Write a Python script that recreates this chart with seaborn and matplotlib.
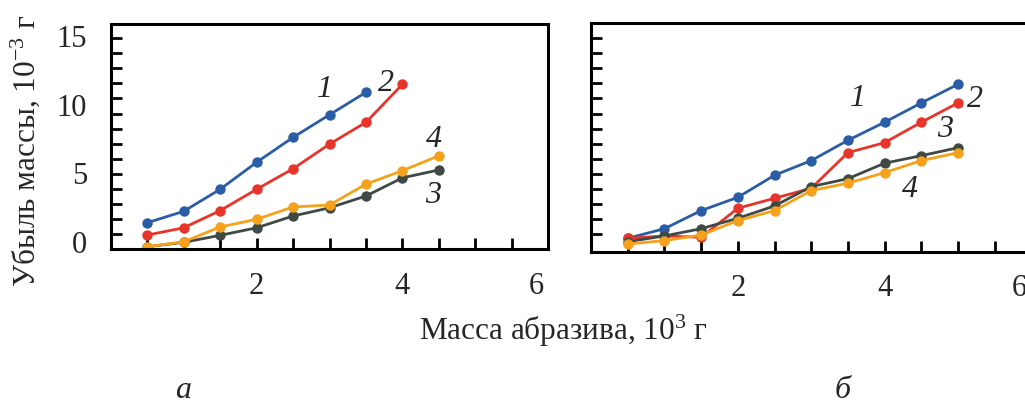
import numpy as np
import pandas as pd
import matplotlib
matplotlib.use('Agg')
import matplotlib.pyplot as plt
import matplotlib.transforms as mtransforms
import seaborn as sns

# abrasive mass, 10^3 g
x_a = [0.5, 1.0, 1.5, 2.0, 2.5, 3.0, 3.5, 4.0, 4.5]
x_b = [0.5, 1.0, 1.5, 2.0, 2.5, 3.0, 3.5, 4.0, 4.5, 5.0]

# mass loss, 10^-3 g  (panel a)
a1 = [1.38, 2.21, 3.82, 5.79, 7.61, 9.26, 10.9]
a2 = [0.48, 1.01, 2.26, 3.82, 5.32, 7.12, 8.71, 11.48]
a3 = [-0.37, -0.05, 0.46, 1.01, 1.87, 2.47, 3.33, 4.66, 5.23]
a4 = [-0.37, -0.01, 1.07, 1.63, 2.53, 2.67, 4.20, 5.18, 6.27]

# panel b
b1 = [0.24, 0.94, 2.26, 3.23, 4.84, 5.91, 7.39, 8.71, 10.12, 11.48]
b2 = [0.24, 0.41, 0.31, 2.43, 3.16, 3.89, 6.49, 7.22, 8.71, 10.12]
b3 = [-0.01, 0.41, 0.94, 1.70, 2.60, 4.01, 4.59, 5.72, 6.27, 6.85]
b4 = [-0.18, 0.07, 0.48, 1.53, 2.26, 3.72, 4.26, 5.03, 5.91, 6.49]

colors = {'1': '#2b5ca6', '2': '#e8352b', '3': '#404a45', '4': '#f5a11c'}

sns.set_style('white')
plt.rcParams['font.family'] = ['Liberation Serif', 'DejaVu Serif']
plt.rcParams['mathtext.default'] = 'regular'


def make_df(x, series):
    rows = []
    for name, ys in series.items():
        for xi, yi in zip(x, ys):
            rows.append({'x': xi, 'y': yi, 'series': name})
    return pd.DataFrame(rows)


df_a = make_df(x_a, {'1': a1, '2': a2, '3': a3, '4': a4})
df_b = make_df(x_b, {'1': b1, '2': b2, '3': b3, '4': b4})

fig = plt.figure(figsize=(10.25, 4.05), dpi=100)
ax_a = fig.add_axes([0.108, 0.3844, 0.427, 0.5563])
ax_b = fig.add_axes([0.5766, 0.3785, 0.4297, 0.564])

yminor = 0.53 + 1.102 * np.arange(14)

for ax, df, ylim in [(ax_a, df_a, (-0.56, 15.88)), (ax_b, df_b, (-0.74, 15.93))]:
    sns.lineplot(data=df, x='x', y='y', hue='series', palette=colors,
                 hue_order=['1', '2', '3', '4'], marker='o', markersize=7.5,
                 markeredgewidth=0, linewidth=2.0, legend=False, ax=ax)
    ax.set_xlim(0, 6)
    ax.set_ylim(*ylim)
    ax.set_xlabel('')
    ax.set_ylabel('')
    for s in ax.spines.values():
        s.set_linewidth(2.2)
        s.set_color('black')
    ax.set_xticks([2, 4, 6])
    ax.set_xticks(np.arange(0.5, 6, 0.5), minor=True)
    ax.set_yticks(yminor, minor=True)
    ax.tick_params(axis='x', which='both', direction='in', length=8, width=2,
                   labelsize=22, pad=16, color='black', bottom=True)
    ax.tick_params(axis='y', which='minor', direction='in', length=8, width=2,
                   color='black', left=True)
    # the "6" label sits a little left of its tick in the original
    lbl = ax.get_xticklabels()[-1]
    lbl.set_transform(lbl.get_transform() +
                      mtransforms.ScaledTranslation(-12 / 100, 0, fig.dpi_scale_trans))

ax_a.set_yticks([0, 5, 10, 15])
ax_a.tick_params(axis='y', which='major', length=0, labelsize=22, pad=17)
ax_b.set_yticks([])

lab = dict(fontsize=23, style='italic', ha='center', va='center')
ax_a.text(2.94, 11.07, '1', **lab)
ax_a.text(3.77, 11.55, '2', **lab)
ax_a.text(4.43, 7.42, '4', **lab)
ax_a.text(4.42, 3.40, '3', **lab)
ax_b.text(3.64, 10.46, '1', **lab)
ax_b.text(5.23, 10.34, '2', **lab)
ax_b.text(4.82, 8.15, '3', **lab)
ax_b.text(4.35, 3.77, '4', **lab)

fig.text(25 / 1025, 1 - 151 / 405, 'Убыль массы, 10$^{−3}$ г', rotation=90,
         fontsize=22.5, ha='center', va='center')
fig.text(563 / 1025, 1 - 331 / 405, 'Масса абразива, 10$^{3}$ г',
         fontsize=22.5, ha='center', va='center')
fig.text(183 / 1025, 1 - 390 / 405, 'а', fontsize=23, style='italic',
         ha='center', va='center')
fig.text(843 / 1025, 1 - 390 / 405, 'б', fontsize=23, style='italic',
         ha='center', va='center')

fig.savefig('out.png', dpi=100)
